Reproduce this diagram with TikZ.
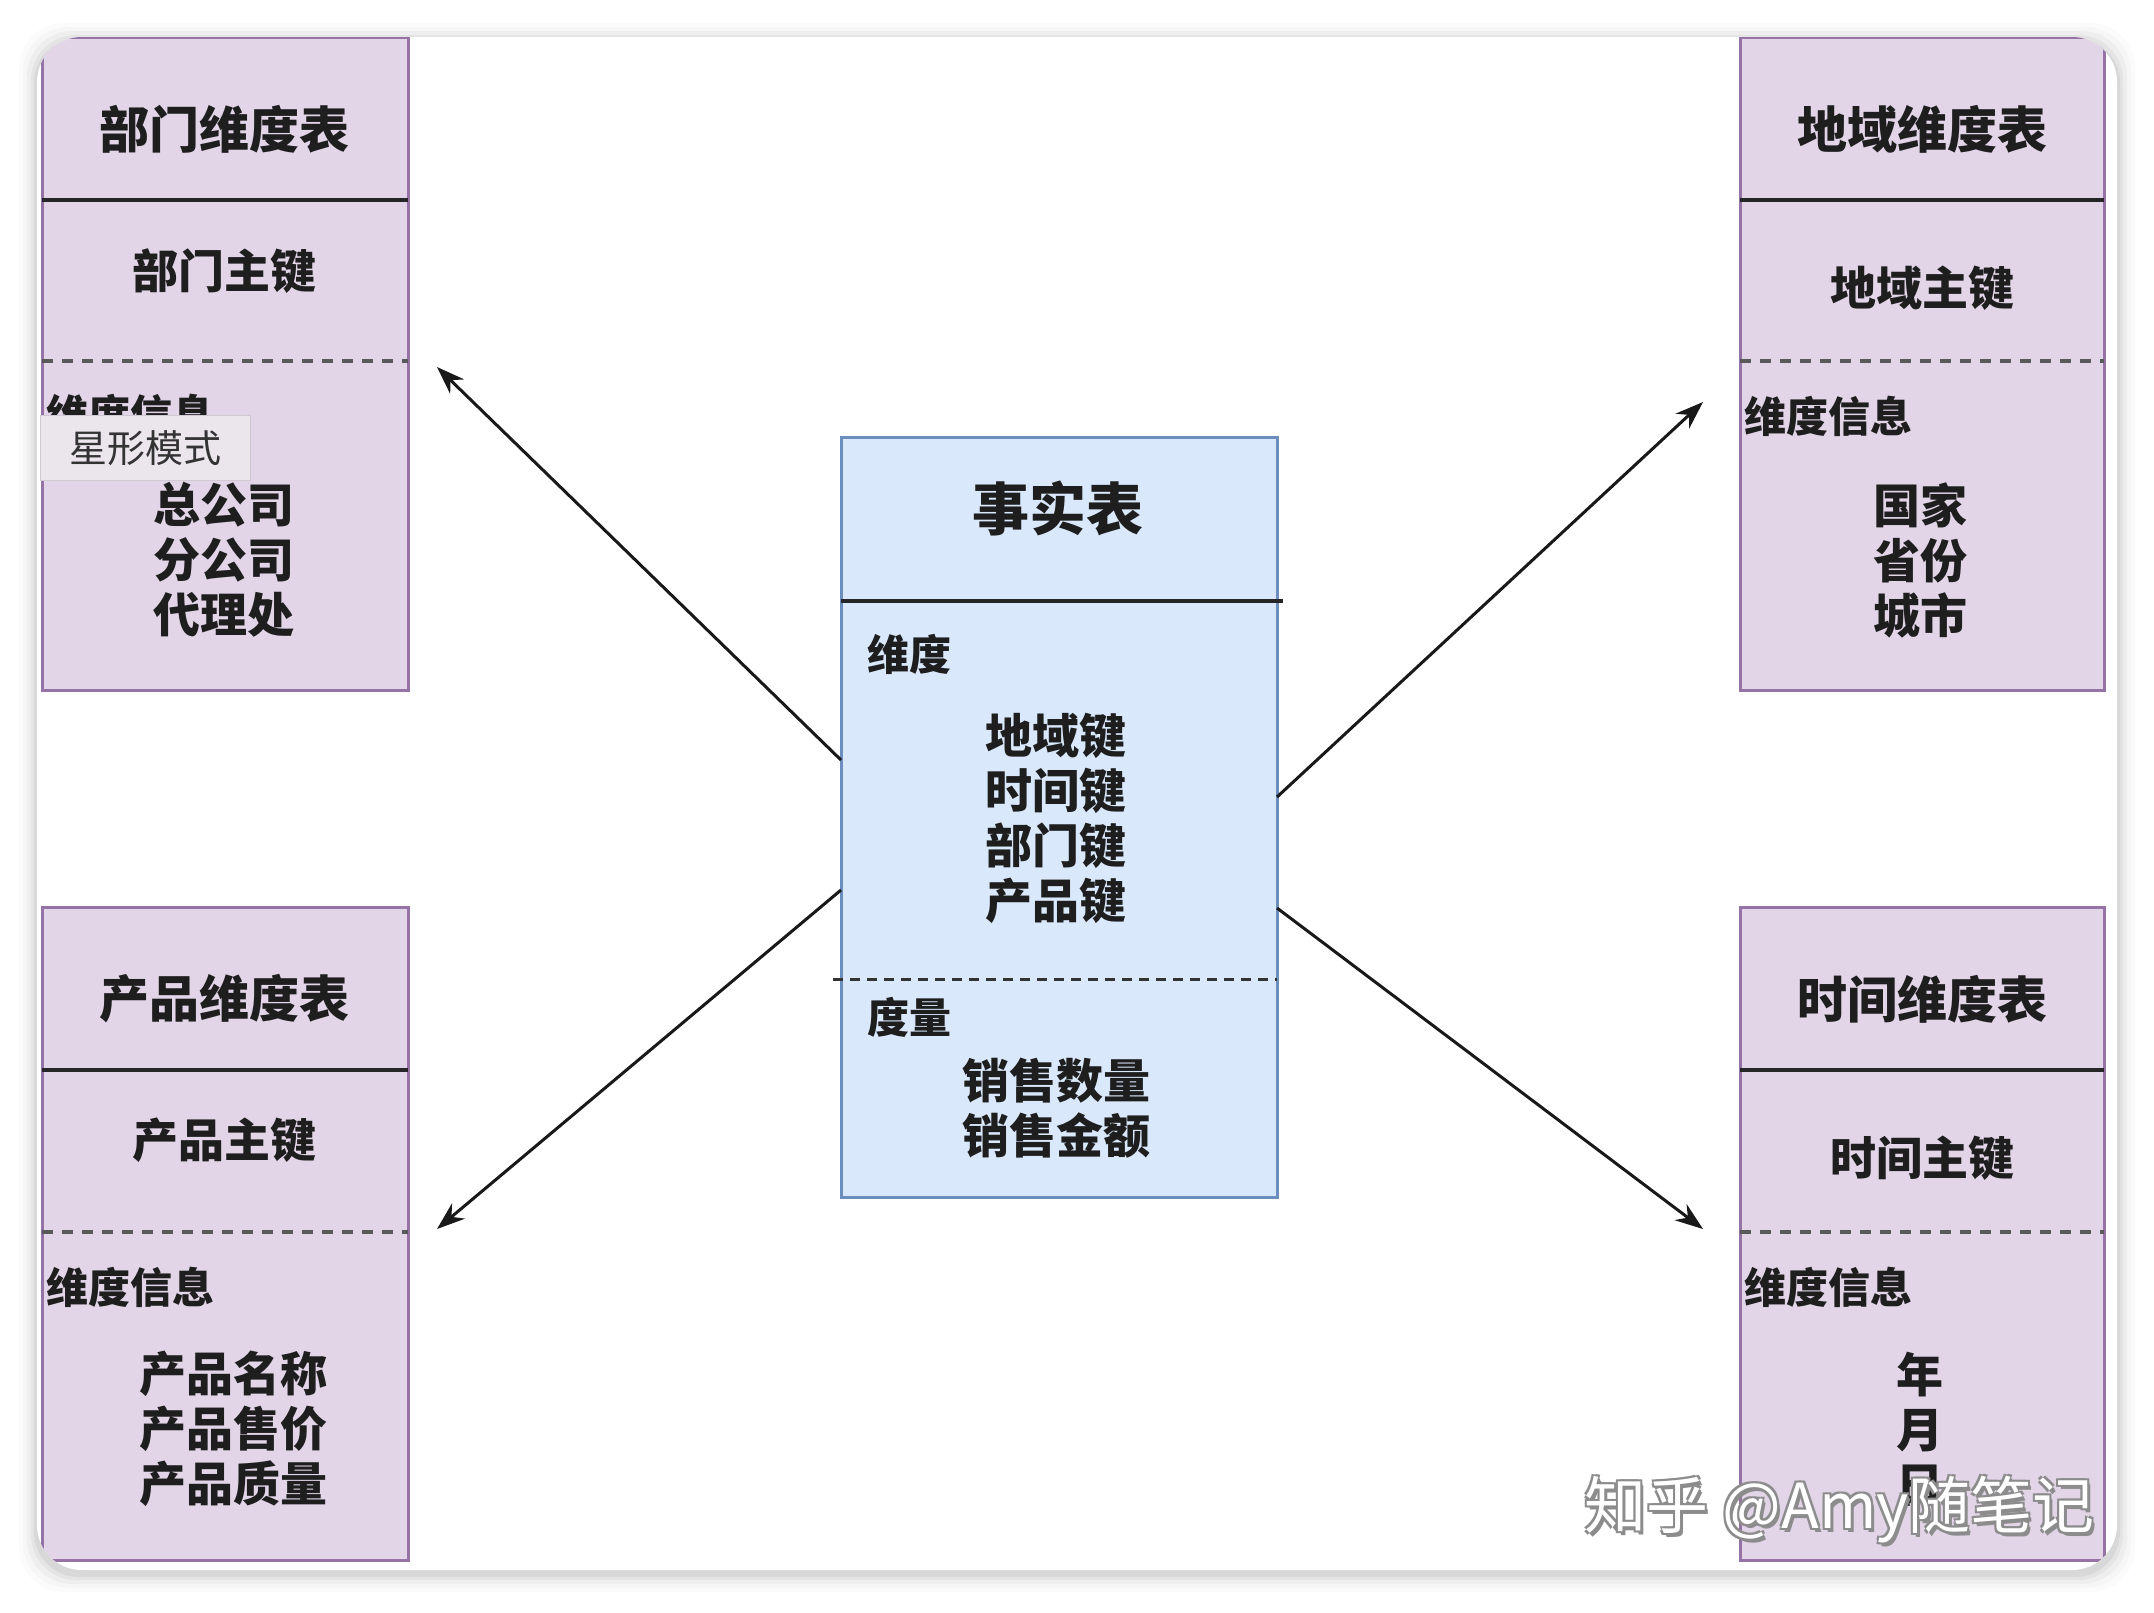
\documentclass[tikz,border=0pt]{standalone}
\usepackage{fontspec}
\setmainfont{Noto Sans CJK SC}
\usetikzlibrary{arrows.meta,calc}
\definecolor{dimfill}{HTML}{E1D5E7}
\definecolor{dimline}{HTML}{9673A6}
\definecolor{factfill}{HTML}{DAE8FC}
\definecolor{factline}{HTML}{6C8EBF}
\definecolor{txt}{HTML}{1E1E1E}
\definecolor{tipfill}{HTML}{EAE6EC}
\definecolor{tipline}{HTML}{CFC9D2}
\begin{document}
\begin{tikzpicture}[x=1pt,y=-1pt,
  dimbox/.style={draw=dimline, fill=dimfill, line width=3pt, minimum width=366pt, minimum height=653pt, anchor=north west, inner sep=0pt, outer sep=0pt},
  factbox/.style={draw=factline, fill=factfill, line width=3pt, minimum width=436pt, minimum height=760pt, anchor=north west, inner sep=0pt, outer sep=0pt},
  sepline/.style={draw=black!85, line width=3.5pt},
  dashline/.style={draw=black!65, line width=4pt, dash pattern=on 11pt off 9pt},
  fdashline/.style={draw=black!80, line width=3pt, dash pattern=on 10pt off 7pt},
  ttl/.style={text=txt, inner sep=0pt, font=\fontsize{50}{60}\selectfont\bfseries},
  keyt/.style={text=txt, inner sep=0pt, font=\fontsize{46}{55}\selectfont\bfseries},
  lbl/.style={text=txt, inner sep=0pt, anchor=west, font=\fontsize{42}{50}\selectfont\bfseries},
  items/.style={text=txt, inner sep=0pt, align=center, font=\fontsize{47}{55}\selectfont\bfseries},
  arr/.style={draw=black!90, line width=3pt, -{Stealth[length=28pt,width=20pt]}},
  tipbox/.style={fill=tipfill, draw=tipline, line width=1pt, minimum width=210pt, minimum height=65pt, inner sep=0pt, text=black!80, font=\fontsize{38}{46}\selectfont},
  wmark/.style={inner sep=0pt, font=\fontsize{62}{70}\selectfont}
]
\useasboundingbox (0,0) rectangle (2154,1612);
\fill[white] (0,0) rectangle (2154,1612);
% card shadow
\foreach \d/\o in {18/0.015,14/0.02,10/0.03,6/0.04,3/0.05}{
  \fill[black, opacity=\o, rounded corners=45pt] (37-\d,37-\d+4) rectangle (2117+\d,1570+\d+4);
}
\fill[white, rounded corners=45pt] (37,37) rectangle (2117,1570);
\begin{scope}
\clip[rounded corners=45pt] (37,37) rectangle (2117,1570);
% dimension tables
\node[dimbox] (dept) at (42,37) {};
\node[dimbox, minimum width=364pt] (region) at (1740,37) {};
\node[dimbox] (prod) at (42,907) {};
\node[dimbox, minimum width=364pt] (time) at (1740,907) {};
\end{scope}
% separators
\draw[sepline] (dept.west |- 0,200) -- (dept.east |- 0,200);
\draw[dashline] (dept.west |- 0,361) -- (dept.east |- 0,361);
\draw[sepline] (region.west |- 0,200) -- (region.east |- 0,200);
\draw[dashline] (region.west |- 0,361) -- (region.east |- 0,361);
\draw[sepline] (prod.west |- 0,1070) -- (prod.east |- 0,1070);
\draw[dashline] (prod.west |- 0,1232) -- (prod.east |- 0,1232);
\draw[sepline] (time.west |- 0,1070) -- (time.east |- 0,1070);
\draw[dashline] (time.west |- 0,1232) -- (time.east |- 0,1232);
% dept texts
\node[ttl] (deptT) at (224,129) {部门维度表};
\node[keyt] (deptK) at (224,271) {部门主键};
\node[lbl] (deptL) at (46,414) {维度信息};
\node[items] (deptI) at (224,560) {总公司\\分公司\\代理处};
% region texts
\node[ttl] (regT) at (1922,129) {地域维度表};
\node[keyt] (regK) at (1922,288) {地域主键};
\node[lbl] (regL) at (1744,416) {维度信息};
\node[items] (regI) at (1920,560) {国家\\省份\\城市};
% product texts
\node[ttl] (prodT) at (224,999) {产品维度表};
\node[keyt] (prodK) at (224,1140) {产品主键};
\node[lbl] (prodL) at (46,1287) {维度信息};
\node[items] (prodI) at (233,1429) {产品名称\\产品售价\\产品质量};
% time texts
\node[ttl] (timeT) at (1922,999) {时间维度表};
\node[keyt] (timeK) at (1922,1158) {时间主键};
\node[lbl] (timeL) at (1744,1287) {维度信息};
\node[items] (timeI) at (1920,1429) {年\\月\\日};
% fact table
\node[factbox] (fact) at (841,437) {};
\draw[sepline] (fact.west |- 0,601) -- ($(fact.east |- 0,601)+(6,0)$);
\draw[fdashline] ($(fact.west |- 0,979)+(-8,0)$) -- (fact.east |- 0,979);
\node[ttl, font=\fontsize{57}{66}\selectfont\bfseries] (factT) at (1058,508) {事实表};
\node[lbl] (factL1) at (867,654) {维度};
\node[items] (factK) at (1056,818) {地域键\\时间键\\部门键\\产品键};
\node[lbl] (factL2) at (867,1017) {度量};
\node[items] (factM) at (1056,1108) {销售数量\\销售金额};
% arrows
\coordinate (tipDept) at (437,367);
\coordinate (tipRegion) at (1703,402);
\coordinate (tipProd) at (437,1229);
\coordinate (tipTime) at (1703,1229);
\draw[arr] (fact.west |- 0,760) -- (tipDept);
\draw[arr] (fact.east |- 0,797) -- (tipRegion);
\draw[arr] (fact.west |- 0,890) -- (tipProd);
\draw[arr] (fact.east |- 0,908) -- (tipTime);
% tooltip
\node[tipbox] (tooltip) at (145,448) {星形模式};
% watermark
\foreach \dx/\dy in {2/2,-2/2,2/-2,-2/-2,3/4}{
  \node[wmark, text=black!45, anchor=east] at (2095+\dx,1510+\dy) {知乎 @Amy随笔记};
}
\node[wmark, text=white, anchor=east] (wm) at (2095,1510) {知乎 @Amy随笔记};
\end{tikzpicture}
\end{document}
